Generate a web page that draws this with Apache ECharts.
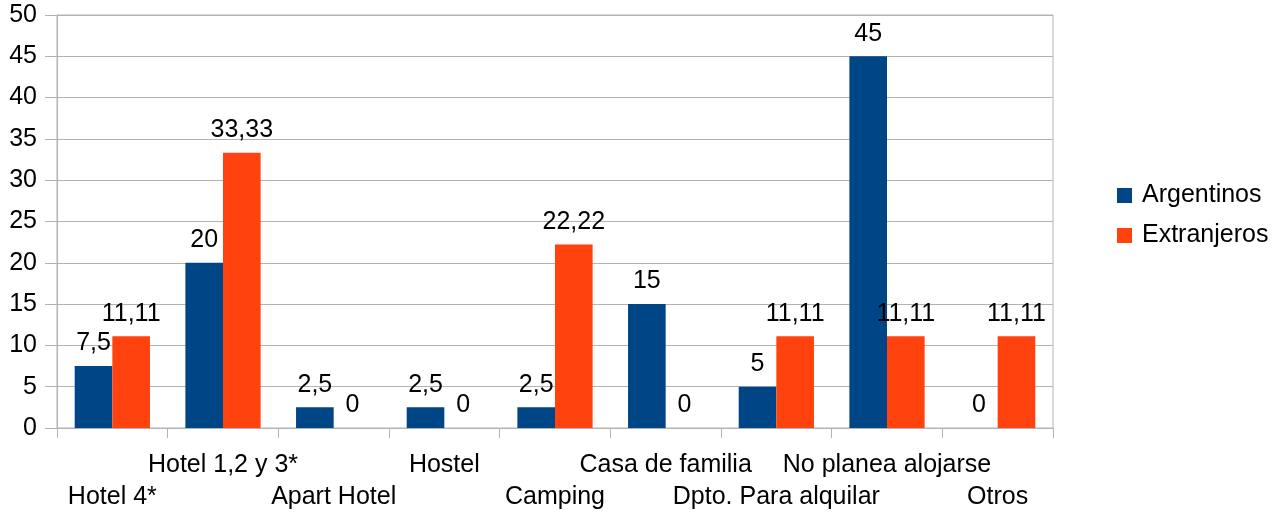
<!DOCTYPE html>
<html><head><meta charset="utf-8">
<script src="https://cdn.jsdelivr.net/npm/echarts@6/dist/echarts.min.js"></script>
<style>html,body{margin:0;padding:0;background:#fff}#c{width:1286px;height:513px}</style>
</head><body><div id="c"></div>
<script>
const categories = ["Hotel 4*", "Hotel 1,2 y 3*", "Apart Hotel", "Hostel", "Camping", "Casa de familia", "Dpto. Para alquilar", "No planea alojarse", "Otros"];
const argentinos = [7.5, 20, 2.5, 2.5, 2.5, 15, 5, 45, 0];
const extranjeros = [11.11, 33.33, 0, 0, 22.22, 0, 11.11, 11.11, 11.11];
const seriesNames = ["Argentinos", "Extranjeros"];
const yTicks = {min: 0, max: 50, interval: 5};

const font = "Liberation Sans";
const fs = 25;
const fmt = v => String(v).replace('.', ',');
const lbl = {show: true, position: 'top', distance: 10, color: '#000', fontSize: fs, fontFamily: font,
  formatter: p => fmt(p.value)};

const chart = echarts.init(document.getElementById('c'), null, {renderer: 'canvas'});
chart.setOption({
  animation: false,
  textStyle: {fontFamily: font},
  grid: {left: 57, right: 233, top: 15, bottom: 85, show: true, borderColor: '#b3b3b3', borderWidth: 1, containLabel: false},
  legend: {
    orient: 'vertical', left: 1112, top: 178, itemWidth: 15, itemHeight: 15, itemGap: 15,
    textStyle: {fontSize: fs, color: '#000', fontFamily: font, padding: [0, 0, 0, 5]},
    icon: 'rect', data: seriesNames
  },
  xAxis: {
    type: 'category', data: categories,
    axisLine: {show: true, lineStyle: {color: '#b3b3b3'}},
    axisTick: {show: true, length: 10, lineStyle: {color: '#b3b3b3'}},
    axisLabel: {
      interval: 0, margin: 21, fontSize: fs, color: '#000', fontFamily: font, lineHeight: 32,
      formatter: (v, i) => i % 2 === 0 ? '\n' + v : v
    }
  },
  yAxis: {
    type: 'value', min: yTicks.min, max: yTicks.max, interval: yTicks.interval,
    axisLine: {show: true, lineStyle: {color: '#b3b3b3'}},
    axisTick: {show: true, length: 12, lineStyle: {color: '#b3b3b3'}},
    splitLine: {lineStyle: {color: '#b3b3b3'}},
    axisLabel: {fontSize: fs, color: '#000', fontFamily: font, margin: 20}
  },
  series: [
    {name: seriesNames[0], type: 'bar', data: argentinos, itemStyle: {color: '#004586'},
     barGap: '0%', barCategoryGap: '32%', label: lbl},
    {name: seriesNames[1], type: 'bar', data: extranjeros, itemStyle: {color: '#ff420e'},
     barGap: '0%', barCategoryGap: '32%', label: lbl}
  ]
});
</script></body></html>
